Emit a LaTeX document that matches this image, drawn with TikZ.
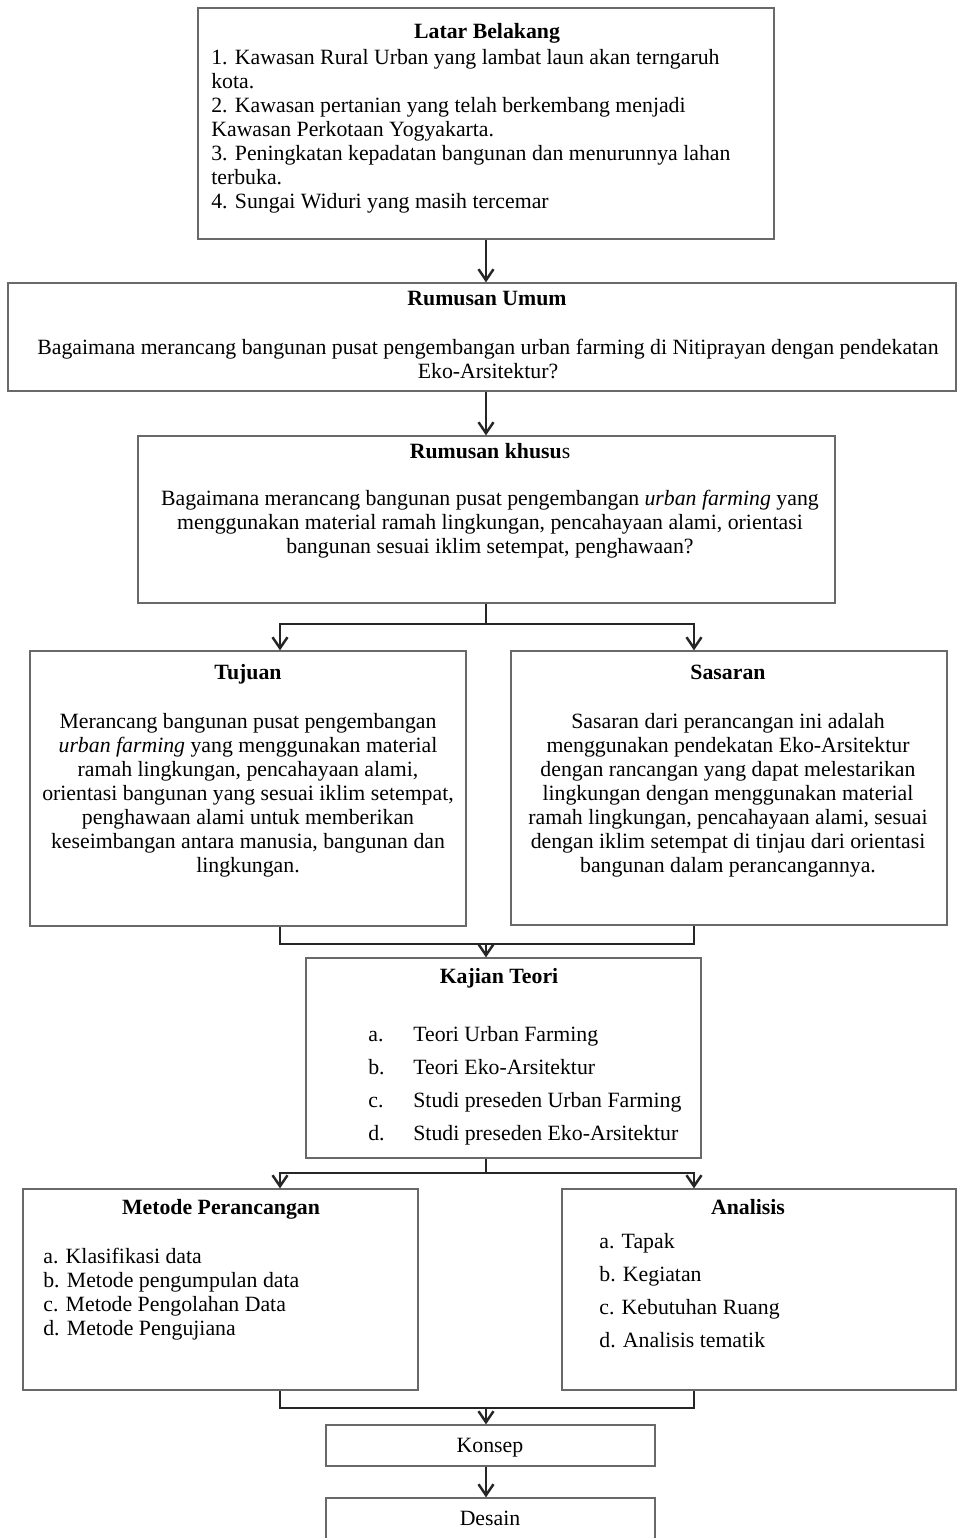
\documentclass[tikz,border=0pt]{standalone}
\usepackage{fontspec}
\setmainfont{Liberation Serif}
\usetikzlibrary{arrows.meta,positioning,fit}
\definecolor{boxgray}{RGB}{105,105,105}
\newcommand{\diagfont}{\fontsize{12.4}{13.7}\selectfont}
\tikzset{
  box/.style={rectangle, draw=boxgray, line width=0.7pt, inner sep=0pt},
  title/.style={font=\diagfont\bfseries, inner sep=0pt, anchor=base},
  body/.style={font=\diagfont, inner sep=0pt, align=center, anchor=north},
  list/.style={body, align=left, anchor=north west},
  line/.style={line width=1.4pt, black!85},
  arrow/.style={line, -{Straight Barb[length=2.2mm, width=3mm]}},
}

\begin{document}
\begin{tikzpicture}[x=0.02cm, y=-0.02cm]
\useasboundingbox (0,0) rectangle (957,1538);

% boxes
\node[box, fit={(198,8) (774,239)}] (latar) {};
\node[box, fit={(8,283) (956,391)}] (umum) {};
\node[box, fit={(138,436) (835,603)}] (khusus) {};
\node[box, fit={(30,651) (466,926)}] (tujuan) {};
\node[box, fit={(511,651) (947,925)}] (sasaran) {};
\node[box, fit={(306,958) (701,1158)}] (kajian) {};
\node[box, fit={(23,1189) (418,1390)}] (metode) {};
\node[box, fit={(562,1189) (956,1390)}] (analisis) {};
\node[box, fit={(326,1425) (655,1466)}] (konsep) {};
\node[box, fit={(326,1498) (655,1540)}] (desain) {};

% texts
\node[title] (latarT) at (487,38) {Latar Belakang};
\node[list] (latarB) at (211,49) {1. Kawasan Rural Urban yang lambat laun akan terngaruh\\
  kota.\\
  2. Kawasan pertanian yang telah berkembang menjadi\\
  Kawasan Perkotaan Yogyakarta.\\
  3. Peningkatan kepadatan bangunan dan menurunnya lahan\\
  terbuka.\\
  4. Sungai Widuri yang masih tercemar};

\node[title] (umumT) at (487,305) {Rumusan Umum};
\node[body] (umumB) at (488,339) {Bagaimana merancang bangunan pusat pengembangan urban farming di Nitiprayan dengan pendekatan\\
  Eko-Arsitektur?};

\node[title] (khususT) at (490,458) {Rumusan khusu\textmd{s}};
\node[body] (khususB) at (490,490) {Bagaimana merancang bangunan pusat pengembangan \textit{urban farming} yang\\
  menggunakan material ramah lingkungan, pencahayaan alami, orientasi\\
  bangunan sesuai iklim setempat, penghawaan?};

\node[title] (tujuanT) at (248,679) {Tujuan};
\node[body] (tujuanB) at (248,713) {Merancang bangunan pusat pengembangan\\
  \textit{urban farming} yang menggunakan material\\
  ramah lingkungan, pencahayaan alami,\\
  orientasi bangunan yang sesuai iklim setempat,\\
  penghawaan alami untuk memberikan\\
  keseimbangan antara manusia, bangunan dan\\
  lingkungan.};

\node[title] (sasaranT) at (728,679) {Sasaran};
\node[body] (sasaranB) at (728,713) {Sasaran dari perancangan ini adalah\\
  menggunakan pendekatan Eko-Arsitektur\\
  dengan rancangan yang dapat melestarikan\\
  lingkungan dengan menggunakan material\\
  ramah lingkungan, pencahayaan alami, sesuai\\
  dengan iklim setempat di tinjau dari orientasi\\
  bangunan dalam perancangannya.};

\node[title] (kajianT) at (499,983) {Kajian Teori};
\node[list] (kajianB) at (368,1026) {\makebox[0.9cm][l]{a.}Teori Urban Farming\\[5pt]
  \makebox[0.9cm][l]{b.}Teori Eko-Arsitektur\\[5pt]
  \makebox[0.9cm][l]{c.}Studi preseden Urban Farming\\[5pt]
  \makebox[0.9cm][l]{d.}Studi preseden Eko-Arsitektur};

\node[title] (metodeT) at (221,1214) {Metode Perancangan};
\node[list] (metodeB) at (43,1248) {a. Klasifikasi data\\
  b. Metode pengumpulan data\\
  c. Metode Pengolahan Data\\
  d. Metode Pengujiana};

\node[title] (analisisT) at (748,1214) {Analisis};
\node[list] (analisisB) at (599,1233) {a. Tapak\\[5pt]
  b. Kegiatan\\[5pt]
  c. Kebutuhan Ruang\\[5pt]
  d. Analisis tematik};

\node[body, anchor=base] (konsepT) at (490,1452) {Konsep};
\node[body, anchor=base] (desainT) at (490,1525) {Desain};

% connectors
\coordinate (spine) at (486,0);
\coordinate (colL) at (280,0);
\coordinate (colR) at (694,0);
\coordinate (split1) at (486,624);
\coordinate (join1) at (486,944);
\coordinate (split2) at (486,1173);
\coordinate (join2) at (486,1408);

\draw[arrow] (latar.south -| spine) -- (umum.north -| spine);
\draw[arrow] (umum.south -| spine) -- (khusus.north -| spine);
\draw[line] (khusus.south -| spine) -- (split1);
\draw[arrow] (split1) -| (tujuan.north -| colL);
\draw[arrow] (split1) -| (sasaran.north -| colR);
\draw[line] (tujuan.south -| colL) |- (join1) -| (sasaran.south -| colR);
\draw[arrow] (join1) -- (kajian.north -| join1);
\draw[line] (kajian.south -| spine) -- (split2);
\draw[arrow] (split2) -| (metode.north -| colL);
\draw[arrow] (split2) -| (analisis.north -| colR);
\draw[line] (metode.south -| colL) |- (join2) -| (analisis.south -| colR);
\draw[arrow] (join2) -- (konsep.north -| join2);
\draw[arrow] (konsep.south -| spine) -- (desain.north -| spine);
\end{tikzpicture}
\end{document}
